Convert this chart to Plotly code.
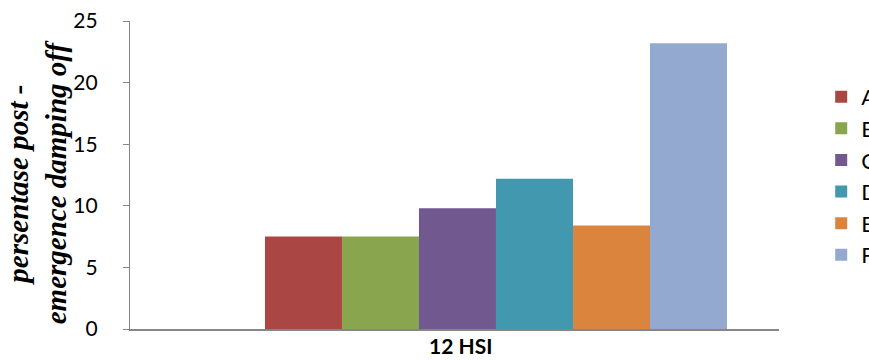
import plotly.graph_objects as go

# Post-emergence damping-off percentage at 12 HSI, per treatment
category = ["12 HSI"]
treatments = ["A", "B", "C", "D", "E", "F"]
damping_off = [7.5, 7.5, 9.8, 12.2, 8.4, 23.2]
colors = ["#AA4744", "#89A54E", "#71588F", "#4198AF", "#DB843D", "#93A9CF"]
y_ticks = [0, 5, 10, 15, 20, 25]

fig = go.Figure()
for name, val, col in zip(treatments, damping_off, colors):
    fig.add_trace(go.Bar(
        x=category, y=[val], name=name,
        marker=dict(color=col, line=dict(width=0)),
    ))

axis_grey = "#868686"

fig.update_layout(
    width=869, height=360,
    margin=dict(l=130, r=90, t=21, b=31, autoexpand=False),
    plot_bgcolor="white", paper_bgcolor="white",
    barmode="group", bargap=0.3, bargroupgap=0,
    font=dict(family="Lato", color="black"),
    showlegend=True,
    legend=dict(
        xref="container", yref="container",
        x=0.945, y=0.789, xanchor="left", yanchor="top",
        font=dict(size=22, family="Lato"),
        bgcolor="rgba(0,0,0,0)", itemwidth=30,
        maxheight=320,
    ),
    xaxis=dict(
        type="category", range=[-0.5545, 0.4288],
        showline=True, linecolor=axis_grey, linewidth=2,
        showticklabels=False, ticks="", showgrid=False, zeroline=False,
    ),
    yaxis=dict(
        range=[0, 25], tickvals=y_ticks,
        showline=True, linecolor=axis_grey, linewidth=1.3,
        ticks="outside", ticklen=6, tickcolor=axis_grey, tickwidth=1.3,
        ticklabelstandoff=21,
        tickfont=dict(size=21, family="Lato"),
        showgrid=False, zeroline=False,
    ),
)

fig.add_annotation(
    text="12 HSI", xref="paper", yref="paper",
    x=0.51, y=-0.055, xanchor="center", yanchor="middle",
    showarrow=False, font=dict(size=21, family="Lato", color="black", weight="bold"),
)

fig.add_annotation(
    text="<b><i>persentase post -<br>emergence damping off</i></b>",
    xref="paper", yref="paper",
    x=-0.143, y=0.477, xanchor="center", yanchor="middle",
    textangle=-90, showarrow=False,
    font=dict(size=29, family="Liberation Serif", color="black"),
)

fig.write_html("out.html")
